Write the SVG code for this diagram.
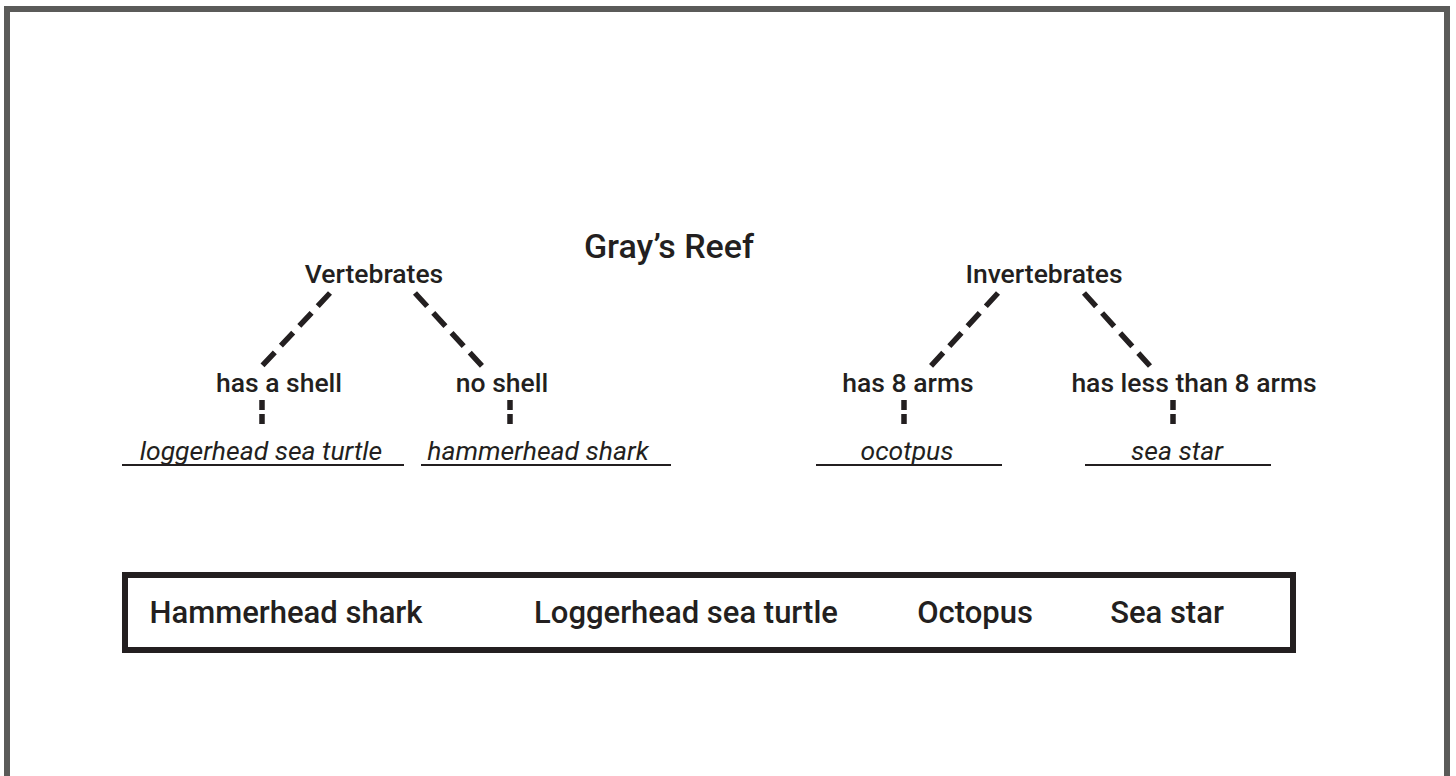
<svg xmlns="http://www.w3.org/2000/svg" width="1456" height="776" viewBox="0 0 1456 776">
  <style>
    .lbl { font-family: Roboto, "Liberation Sans", sans-serif; font-weight: 500; fill: #231f20; text-anchor: middle; }
    .sp { font-family: Roboto, "Liberation Sans", sans-serif; font-style: italic; font-weight: 400; fill: #231f20; text-anchor: middle; font-size: 26.5px; }
    .diag { stroke: #231f20; stroke-width: 5.5; stroke-dasharray: 18 9; fill: none; }
    .vert { stroke: #231f20; stroke-width: 5.5; stroke-dasharray: 10 4; fill: none; }
    .ul { stroke: #231f20; stroke-width: 2; }
  </style>
  <rect width="1456" height="776" fill="#ffffff"/>
  <rect id="frame" x="7" y="9" width="1440" height="800" fill="none" stroke="#5b5b59" stroke-width="6"/>

  <g id="title"><text class="lbl" x="669" y="258" font-size="34">Gray’s Reef</text></g>

  <g id="connectors">
    <line class="diag" x1="330" y1="293" x2="262" y2="366"/>
    <line class="diag" x1="415" y1="293" x2="482" y2="366"/>
    <line class="diag" x1="998" y1="293" x2="931" y2="366"/>
    <line class="diag" x1="1084" y1="293" x2="1150" y2="366"/>
    <line class="vert" x1="262" y1="400" x2="262" y2="425"/>
    <line class="vert" x1="510" y1="400" x2="510" y2="425"/>
    <line class="vert" x1="904" y1="400" x2="904" y2="425"/>
    <line class="vert" x1="1173" y1="400" x2="1173" y2="425"/>
  </g>

  <g id="vertebrates"><text class="lbl" x="374" y="283" font-size="26.5">Vertebrates</text></g>
  <g id="invertebrates"><text class="lbl" x="1044" y="283" font-size="26.5">Invertebrates</text></g>
  <g id="has-shell"><text class="lbl" x="279" y="392" font-size="26.5">has a shell</text></g>
  <g id="no-shell"><text class="lbl" x="502" y="392" font-size="26.5">no shell</text></g>
  <g id="has-8-arms"><text class="lbl" x="908" y="392" font-size="26.5">has 8 arms</text></g>
  <g id="less-8-arms"><text class="lbl" x="1194" y="392" font-size="26.5">has less than 8 arms</text></g>

  <g id="loggerhead">
    <line class="ul" x1="122" y1="465" x2="404" y2="465"/>
    <text class="sp" x="261" y="460">loggerhead sea turtle</text>
  </g>
  <g id="hammerhead">
    <line class="ul" x1="421" y1="465" x2="671" y2="465"/>
    <text class="sp" x="538" y="460">hammerhead shark</text>
  </g>
  <g id="octopus">
    <line class="ul" x1="816" y1="465" x2="1002" y2="465"/>
    <text class="sp" x="907" y="460">ocotpus</text>
  </g>
  <g id="seastar">
    <line class="ul" x1="1085" y1="465" x2="1271" y2="465"/>
    <text class="sp" x="1177" y="460">sea star</text>
  </g>

  <g id="word-bank">
    <rect x="125" y="575" width="1168" height="75" fill="none" stroke="#231f20" stroke-width="6"/>
    <text class="lbl" x="286" y="623" font-size="31">Hammerhead shark</text>
    <text class="lbl" x="686" y="623" font-size="31">Loggerhead sea turtle</text>
    <text class="lbl" x="975" y="623" font-size="31">Octopus</text>
    <text class="lbl" x="1167" y="623" font-size="31">Sea star</text>
  </g>
</svg>
